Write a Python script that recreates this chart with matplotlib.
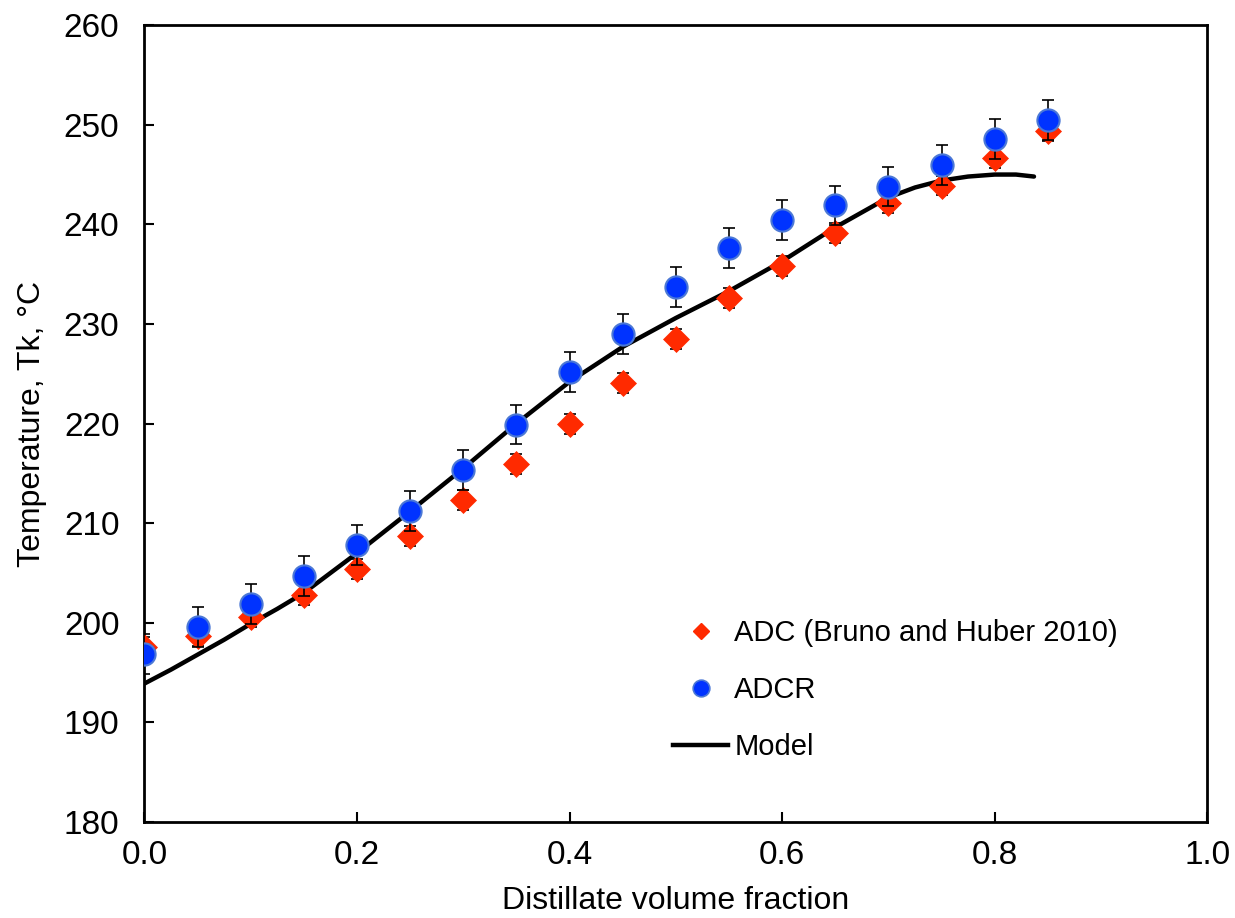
import matplotlib
matplotlib.use("Agg")
import matplotlib.pyplot as plt
from matplotlib.lines import Line2D

plt.rcParams['font.family'] = ['Liberation Sans', 'DejaVu Sans']

# ---- data ----
frac = [0.0, 0.05, 0.10, 0.15, 0.20, 0.25, 0.30, 0.35, 0.40, 0.45,
        0.50, 0.55, 0.60, 0.65, 0.70, 0.75, 0.80, 0.85]
adc_temp = [197.6, 198.7, 200.6, 202.8, 205.4, 208.7, 212.3, 215.9, 220.0, 224.1,
            228.5, 232.6, 235.8, 239.1, 242.1, 243.9, 246.7, 249.4]
adc_err = [1.0] * len(frac)
adcr_temp = [196.9, 199.6, 201.9, 204.7, 207.8, 211.2, 215.3, 219.9, 225.2, 229.0,
             233.7, 237.6, 240.4, 241.9, 243.8, 246.0, 248.6, 250.5]
adcr_err = [2.0] * len(frac)

model_x = [0.0, 0.025, 0.05, 0.075, 0.10, 0.125, 0.15, 0.20, 0.25, 0.30, 0.35, 0.40, 0.45,
           0.50, 0.55, 0.60, 0.65, 0.70, 0.725, 0.75, 0.775, 0.80, 0.82, 0.837]
model_y = [193.9, 195.3, 196.8, 198.3, 199.9, 201.4, 203.0, 207.0, 211.2, 215.5, 220.0, 224.2, 227.7,
           230.6, 233.3, 236.3, 239.7, 242.7, 243.7, 244.4, 244.8, 245.0, 245.0, 244.8]

xticks = [0.0, 0.2, 0.4, 0.6, 0.8, 1.0]
xtick_labels = ['0.0', '0.2', '0.4', '0.6', '0.8', '1.0']
yticks = [180, 190, 200, 210, 220, 230, 240, 250, 260]

red = '#FF2A00'
blue = '#0033FF'
blue_edge = '#4B78D6'

fig = plt.figure(figsize=(12.35, 9.18), dpi=100)
ax = fig.add_axes([0.117, 0.1046, 0.8605, 0.868])

ax.plot(model_x, model_y, color='black', lw=3.2, zorder=2,
        solid_capstyle='round', solid_joinstyle='round')

ax.errorbar(frac, adc_temp, yerr=adc_err, fmt='none', ecolor='black',
            elinewidth=1.2, capsize=4.5, capthick=1.2, zorder=3)
ax.plot(frac, adc_temp, linestyle='none', marker='D', ms=13, color=red,
        markeredgecolor=red, markeredgewidth=0.5, zorder=4)

ax.errorbar(frac, adcr_temp, yerr=adcr_err, fmt='none', ecolor='black',
            elinewidth=1.2, capsize=4.5, capthick=1.2, zorder=5)
ax.plot(frac, adcr_temp, linestyle='none', marker='o', ms=16, color=blue,
        markeredgecolor=blue_edge, markeredgewidth=1.5, zorder=6)

ax.set_xlim(0, 1.0)
ax.set_ylim(180, 260)
ax.set_xticks(xticks)
ax.set_xticklabels(xtick_labels)
ax.set_yticks(yticks)

for s in ax.spines.values():
    s.set_linewidth(2.0)
ax.tick_params(direction='in', length=7, width=1.5, labelsize=24)
ax.tick_params(axis='x', pad=13)
ax.tick_params(axis='y', pad=18)

ax.set_xlabel('Distillate volume fraction', fontsize=23, labelpad=11)
ax.set_ylabel('Temperature, Tk, °C', fontsize=23, labelpad=12)

handles = [
    Line2D([], [], linestyle='none', marker='D', ms=8.5, color=red),
    Line2D([], [], linestyle='none', marker='o', ms=12, color=blue,
           markeredgecolor=blue_edge, markeredgewidth=1.2),
    Line2D([], [], color='black', lw=3.2),
]
labels = ['ADC (Bruno and Huber 2010)', 'ADCR', 'Model']
leg = ax.legend(handles, labels, loc='upper left',
                bbox_to_anchor=(673 / 1235, 1 - 619 / 918),
                bbox_transform=fig.transFigure, frameon=False,
                fontsize=21, handlelength=1.9, handletextpad=0.2,
                labelspacing=1.0, borderpad=0, borderaxespad=0)

fig.savefig('out.png', dpi=100)
